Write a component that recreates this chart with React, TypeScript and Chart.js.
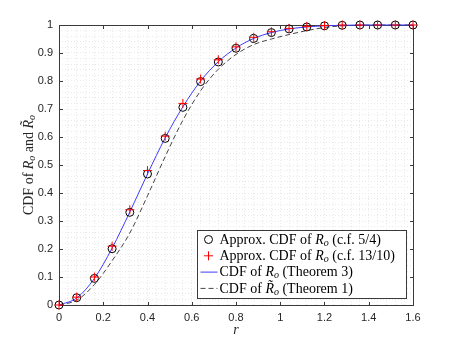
import React, { useEffect, useRef } from 'react';
import { Chart, registerables } from 'chart.js';

Chart.register(...registerables);

// r values where the curves are sampled
const rValues = [0, 0.08, 0.16, 0.24, 0.32, 0.4, 0.48, 0.56, 0.64, 0.72, 0.8, 0.88, 0.96, 1.04, 1.12, 1.2, 1.28, 1.36, 1.44, 1.52, 1.6];
// Approx. CDF of R_o (c.f. 5/4)  -- circles
const approxCF54 = [0, 0.026, 0.095, 0.201, 0.331, 0.468, 0.595, 0.706, 0.798, 0.868, 0.917, 0.952, 0.973, 0.986, 0.993, 0.997, 0.999, 1, 1, 1, 1];
// Approx. CDF of R_o (c.f. 13/10) -- plus markers
const approxCF1310 = [0, 0.028, 0.1, 0.21, 0.34, 0.48, 0.603, 0.72, 0.807, 0.876, 0.922, 0.956, 0.976, 0.988, 0.995, 0.998, 1, 1, 1, 1, 1];
// CDF of R_o (Theorem 3) -- blue solid line
const theorem3 = [0, 0.025, 0.095, 0.203, 0.332, 0.468, 0.597, 0.708, 0.8, 0.869, 0.918, 0.952, 0.973, 0.986, 0.993, 0.997, 0.999, 1, 1, 1, 1];
// CDF of tilde R_o (Theorem 1) -- dashed line
const theorem1 = [0, 0.017, 0.073, 0.158, 0.257, 0.39, 0.53, 0.66, 0.765, 0.842, 0.895, 0.93, 0.95, 0.966, 0.98, 0.991, 0.997, 0.999, 1, 1, 1];

const xTickLabels = ['0', '0.2', '0.4', '0.6', '0.8', '1', '1.2', '1.4', '1.6'];
const yTickLabels = ['0', '0.1', '0.2', '0.3', '0.4', '0.5', '0.6', '0.7', '0.8', '0.9', '1'];

const legendLabels = [
  [{ t: 'Approx. CDF of ' }, { t: 'R', it: true }, { t: 'o', it: true, sub: true }, { t: ' (c.f. 5/4)' }],
  [{ t: 'Approx. CDF of ' }, { t: 'R', it: true }, { t: 'o', it: true, sub: true }, { t: ' (c.f. 13/10)' }],
  [{ t: 'CDF of ' }, { t: 'R', it: true }, { t: 'o', it: true, sub: true }, { t: ' (Theorem 3)' }],
  [{ t: 'CDF of ' }, { t: 'R\u0303', it: true }, { t: 'o', it: true, sub: true }, { t: ' (Theorem 1)' }],
];
const yTitle = [{ t: 'CDF of ' }, { t: 'R', it: true }, { t: 'o', it: true, sub: true }, { t: ' and ' }, { t: 'R\u0303', it: true }, { t: 'o', it: true, sub: true }];

type Seg = { t: string; it?: boolean; sub?: boolean };
const SERIF = '"Liberation Serif", "DejaVu Serif", serif';

function setFont(ctx: CanvasRenderingContext2D, s: Seg, size: number) {
  const fs = s.sub ? Math.round(size * 0.7) : size;
  ctx.font = `${s.it ? 'italic ' : ''}${fs}px ${SERIF}`;
}
function measureRich(ctx: CanvasRenderingContext2D, segs: Seg[], size: number) {
  let w = 0;
  for (const s of segs) { setFont(ctx, s, size); w += ctx.measureText(s.t).width; }
  return w;
}
function drawRich(ctx: CanvasRenderingContext2D, segs: Seg[], x: number, y: number, size: number) {
  let cx = x;
  for (const s of segs) {
    setFont(ctx, s, size);
    ctx.fillText(s.t, cx, y + (s.sub ? size * 0.22 : 0));
    cx += ctx.measureText(s.t).width;
  }
}

const near = (v: number, step: number) => Math.abs(v / step - Math.round(v / step)) < 1e-6;

const decorPlugin = {
  id: 'decor',
  beforeDatasetsDraw(chart: any) {
    const { ctx, chartArea: a, scales } = chart;
    const L = Math.round(a.left) + 0.5, T = Math.round(a.top) + 0.5;
    const R = Math.round(a.right) + 0.5, B = Math.round(a.bottom) + 0.5;
    ctx.save();
    ctx.strokeStyle = '#3a3a3a';
    ctx.lineWidth = 1;
    ctx.strokeRect(L, T, R - L, B - T);
    const tl = 3.5;
    ctx.beginPath();
    scales.x.ticks.forEach((t: any) => {
      if (!near(t.value, 0.2)) return;
      const px = Math.round(scales.x.getPixelForValue(t.value)) + 0.5;
      ctx.moveTo(px, B); ctx.lineTo(px, B - tl);
      ctx.moveTo(px, T); ctx.lineTo(px, T + tl);
    });
    scales.y.ticks.forEach((t: any) => {
      if (!near(t.value, 0.1)) return;
      const py = Math.round(scales.y.getPixelForValue(t.value)) + 0.5;
      ctx.moveTo(L, py); ctx.lineTo(L + tl, py);
      ctx.moveTo(R, py); ctx.lineTo(R - tl, py);
    });
    ctx.stroke();
    ctx.restore();
  },
  afterDraw(chart: any) {
    const { ctx, chartArea: a } = chart;
    ctx.save();
    // legend
    const bw = 209, bh = 68;
    const bx = Math.round(a.right - 7 - bw) + 0.5, by = Math.round(a.bottom - 7 - bh) + 0.5;
    ctx.fillStyle = '#ffffff';
    ctx.fillRect(bx, by, bw, bh);
    ctx.strokeStyle = '#3a3a3a';
    ctx.lineWidth = 1;
    ctx.strokeRect(bx, by, bw, bh);
    const rowH = 16.3;
    const fs = 14;
    legendLabels.forEach((segs, i) => {
      const cy = by + 9 + i * rowH;
      const sx = bx + 11;
      if (i === 0) {
        ctx.beginPath(); ctx.strokeStyle = '#000'; ctx.lineWidth = 1;
        ctx.arc(sx, cy, 4, 0, Math.PI * 2); ctx.stroke();
      } else if (i === 1) {
        ctx.beginPath(); ctx.strokeStyle = '#ff0000'; ctx.lineWidth = 1;
        ctx.moveTo(sx - 4.5, cy); ctx.lineTo(sx + 4.5, cy);
        ctx.moveTo(sx, cy - 4.5); ctx.lineTo(sx, cy + 4.5); ctx.stroke();
      } else if (i === 2) {
        ctx.beginPath(); ctx.strokeStyle = '#3c3cff'; ctx.lineWidth = 1;
        ctx.moveTo(bx + 3, cy); ctx.lineTo(bx + 20, cy); ctx.stroke();
      } else {
        ctx.beginPath(); ctx.strokeStyle = '#444'; ctx.lineWidth = 1;
        ctx.setLineDash([5, 3]);
        ctx.moveTo(bx + 3, cy); ctx.lineTo(bx + 20, cy); ctx.stroke();
        ctx.setLineDash([]);
      }
      ctx.fillStyle = '#000';
      ctx.textBaseline = 'middle';
      ctx.textAlign = 'left';
      drawRich(ctx, segs, bx + 22, cy + 0.5, fs);
    });
    // y title
    const tw = measureRich(ctx, yTitle, 14);
    ctx.translate(29, (a.top + a.bottom) / 2);
    ctx.rotate(-Math.PI / 2);
    ctx.fillStyle = '#262626';
    ctx.textBaseline = 'middle';
    drawRich(ctx, yTitle, -tw / 2, 0, 14);
    ctx.restore();
    // x title
    ctx.save();
    ctx.fillStyle = '#262626';
    ctx.textBaseline = 'middle';
    ctx.textAlign = 'center';
    ctx.font = `italic 14px ${SERIF}`;
    ctx.fillText('r', (a.left + a.right) / 2, 330);
    ctx.restore();
  },
};

export default function App() {
  const ref = useRef<HTMLCanvasElement | null>(null);
  useEffect(() => {
    if (!ref.current) return;
    const pts = (ys: number[]) => rValues.map((x, i) => ({ x, y: ys[i] }));
    const gridColor = '#e9e9e9';
    const chart = new Chart(ref.current, {
      type: 'line',
      data: {
        datasets: [
          {
            label: 'Approx. CDF of Ro (c.f. 13/10)',
            data: pts(approxCF1310),
            showLine: false,
            pointStyle: 'cross',
            pointRadius: 4.5,
            pointBorderColor: '#ff0000',
            pointBorderWidth: 1,
            borderColor: '#ff0000',
            clip: false,
          },
          {
            label: 'Approx. CDF of Ro (c.f. 5/4)',
            data: pts(approxCF54),
            showLine: false,
            pointStyle: 'circle',
            pointRadius: 4,
            pointBorderColor: '#000000',
            pointBackgroundColor: 'rgba(0,0,0,0)',
            pointBorderWidth: 1,
            borderColor: '#000000',
            clip: false,
          },
          {
            label: 'CDF of Ro (Theorem 3)',
            data: pts(theorem3),
            borderColor: '#3c3cff',
            borderWidth: 1,
            pointRadius: 0,
            cubicInterpolationMode: 'monotone',
            clip: false,
          },
          {
            label: 'CDF of R̃o (Theorem 1)',
            data: pts(theorem1),
            borderColor: '#444444',
            borderWidth: 1,
            borderDash: [5, 3],
            pointRadius: 0,
            cubicInterpolationMode: 'monotone',
            clip: false,
          },
        ],
      },
      options: {
        animation: false,
        responsive: false,
        devicePixelRatio: 1,
        layout: { padding: { top: 25, right: 44, bottom: 0, left: 0 } },
        plugins: { legend: { display: false }, tooltip: { enabled: false } },
        scales: {
          x: {
            type: 'linear',
            min: 0,
            max: 1.6,
            afterFit: (s: any) => { s.height = 38; },
            ticks: {
              stepSize: 0.04,
              autoSkip: false,
              maxRotation: 0,
              padding: 6,
              color: '#262626',
              font: { family: '"Liberation Sans", Arial, sans-serif', size: 11 },
              callback: (v: any) => {
                const n = Number(v);
                return near(n, 0.2) ? xTickLabels[Math.round(n / 0.2)] : '';
              },
            },
            grid: { color: gridColor, lineWidth: 1, drawTicks: false },
            border: { display: false, dash: [1, 2] },
          },
          y: {
            type: 'linear',
            min: 0,
            max: 1,
            afterFit: (s: any) => { s.width = 59; },
            ticks: {
              stepSize: 0.02,
              autoSkip: false,
              padding: 6,
              color: '#262626',
              font: { family: '"Liberation Sans", Arial, sans-serif', size: 11 },
              callback: (v: any) => {
                const n = Number(v);
                return near(n, 0.1) ? yTickLabels[Math.round(n / 0.1)] : '';
              },
            },
            grid: { color: gridColor, lineWidth: 1, drawTicks: false },
            border: { display: false, dash: [1, 2] },
          },
        },
      },
      plugins: [decorPlugin],
    } as any);
    return () => chart.destroy();
  }, []);
  return (
    <div style={{ position: 'absolute', left: 0, top: 0, width: 457, height: 343, background: '#fff' }}>
      <canvas ref={ref} width={457} height={343} style={{ display: 'block' }} />
    </div>
  );
}
